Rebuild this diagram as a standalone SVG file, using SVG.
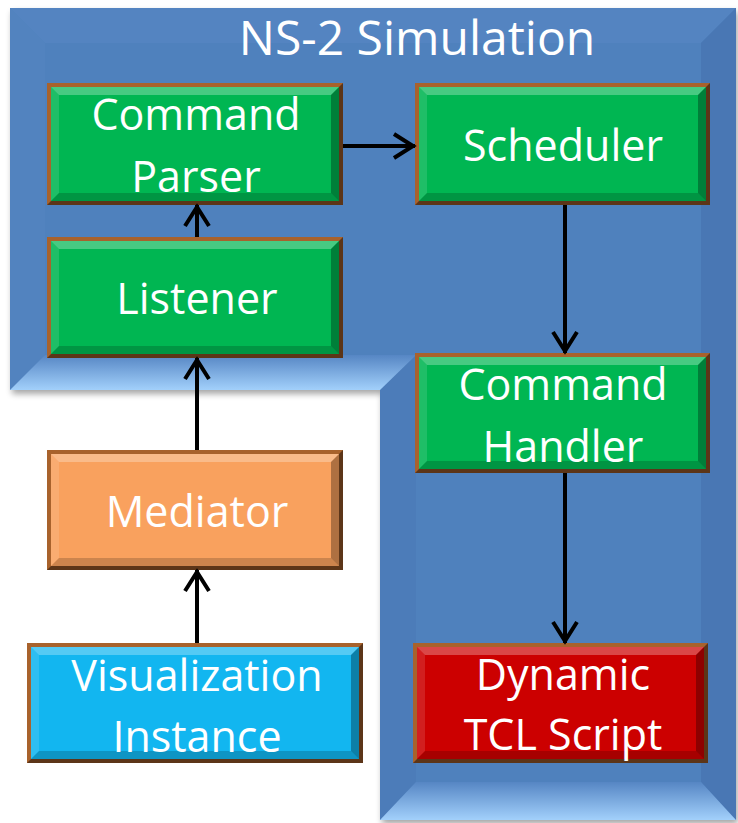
<svg xmlns="http://www.w3.org/2000/svg" width="738" height="823" viewBox="0 0 738 823">
<style>
.t{font-family:"Open Sans","Liberation Sans",sans-serif;font-size:43px;fill:#ffffff;text-anchor:middle}
.title{font-size:48px}
.brd{fill:#a8622c}
.brdd{fill:#000;opacity:.45}
.hl{fill:#fff;opacity:.28}
.hl2{fill:#fff;opacity:.12}
.sh{fill:#000;opacity:.18}
.sh2{fill:#000;opacity:.3}
.green{fill:#00b652}
.orange{fill:#f9a15e}
.cyan{fill:#12b6f0}
.red{fill:#cc0000}
.conn line{stroke:#000;stroke-width:4;fill:none}
</style>
<defs>
<marker id="ah" markerUnits="userSpaceOnUse" markerWidth="30" markerHeight="30" viewBox="-25 -15 30 30" refX="0" refY="0" orient="auto">
<path d="M-21,-12 L-2,0 L-21,12" fill="none" stroke="#000" stroke-width="4"/>
</marker>
<linearGradient id="bev" x1="0" y1="0" x2="0" y2="1">
<stop offset="0" stop-color="#5686c4"/>
<stop offset="1" stop-color="#a2d0fb"/>
</linearGradient>
<filter id="shadow" x="-5%" y="-5%" width="110%" height="110%">
<feGaussianBlur in="SourceAlpha" stdDeviation="3"/>
<feOffset dx="2" dy="4"/>
<feComponentTransfer><feFuncA type="linear" slope="0.35"/></feComponentTransfer>
<feMerge><feMergeNode/><feMergeNode in="SourceGraphic"/></feMerge>
</filter>
</defs>
<rect width="738" height="823" fill="#ffffff"/>

<g id="ns2-simulation">
<polygon points="10,8 736,8 736,820 380,820 380,390 10,390" fill="#4f81bd" filter="url(#shadow)"/>
<polygon points="10,8 736,8 701,43 45,43" fill="#5484c1"/>
<polygon points="10,8 45,43 45,355 10,390" fill="#5283bf"/>
<polygon points="736,8 736,820 701,782 701,43" fill="#4977b4"/>
<polygon points="380,390 416,355 416,782 380,820" fill="#4c7cb9"/>
<polygon points="10,390 45,355 416,355 380,390" fill="url(#bev)"/>
<polygon points="380,820 416,782 701,782 736,820" fill="url(#bev)"/>
<rect x="45" y="43" width="656" height="312" fill="#4f81bd"/>
<rect x="416" y="43" width="285" height="739" fill="#4f81bd"/>
<text class="t title" x="417" y="55">NS-2 Simulation</text>
</g>

<g id="command-parser">
<rect class="brd" x="47" y="83" width="296" height="122"/>
<polygon class="brdd" points="343,83 343,205 47,205 51,201 339,201 339,87"/>
<rect class="green" x="51" y="87" width="288" height="114"/>
<polygon class="hl" points="51,87 339,87 331,95 59,95"/>
<polygon class="hl2" points="51,87 59,95 59,193 51,201"/>
<polygon class="sh" points="51,201 59,193 331,193 339,201"/>
<polygon class="sh2" points="339,87 339,201 331,193 331,95"/>
<text class="t" x="196" y="130">Command</text>
<text class="t" x="196" y="192">Parser</text>
</g>

<g id="scheduler">
<rect class="brd" x="415" y="83" width="295" height="122"/>
<polygon class="brdd" points="710,83 710,205 415,205 419,201 706,201 706,87"/>
<rect class="green" x="419" y="87" width="287" height="114"/>
<polygon class="hl" points="419,87 706,87 698,95 427,95"/>
<polygon class="hl2" points="419,87 427,95 427,193 419,201"/>
<polygon class="sh" points="419,201 427,193 698,193 706,201"/>
<polygon class="sh2" points="706,87 706,201 698,193 698,95"/>
<text class="t" x="563" y="161">Scheduler</text>
</g>

<g id="listener">
<rect class="brd" x="47" y="237" width="296" height="121"/>
<polygon class="brdd" points="343,237 343,358 47,358 51,354 339,354 339,241"/>
<rect class="green" x="51" y="241" width="288" height="113"/>
<polygon class="hl" points="51,241 339,241 331,249 59,249"/>
<polygon class="hl2" points="51,241 59,249 59,346 51,354"/>
<polygon class="sh" points="51,354 59,346 331,346 339,354"/>
<polygon class="sh2" points="339,241 339,354 331,346 331,249"/>
<text class="t" x="197" y="314">Listener</text>
</g>

<g id="command-handler">
<rect class="brd" x="415" y="353" width="295" height="120"/>
<polygon class="brdd" points="710,353 710,473 415,473 419,469 706,469 706,357"/>
<rect class="green" x="419" y="357" width="287" height="112"/>
<polygon class="hl" points="419,357 706,357 698,365 427,365"/>
<polygon class="hl2" points="419,357 427,365 427,461 419,469"/>
<polygon class="sh" points="419,469 427,461 698,461 706,469"/>
<polygon class="sh2" points="706,357 706,469 698,461 698,365"/>
<text class="t" x="563" y="400">Command</text>
<text class="t" x="563" y="462">Handler</text>
</g>

<g id="mediator">
<rect class="brd" x="47" y="450" width="296" height="120"/>
<polygon class="brdd" points="343,450 343,570 47,570 51,566 339,566 339,454"/>
<rect class="orange" x="51" y="454" width="288" height="112"/>
<polygon class="hl" points="51,454 339,454 331,462 59,462"/>
<polygon class="hl2" points="51,454 59,462 59,558 51,566"/>
<polygon class="sh" points="51,566 59,558 331,558 339,566"/>
<polygon class="sh2" points="339,454 339,566 331,558 331,462"/>
<text class="t" x="197" y="527">Mediator</text>
</g>

<g id="visualization-instance">
<rect class="brd" x="27" y="643" width="336" height="120"/>
<polygon class="brdd" points="363,643 363,763 27,763 31,759 359,759 359,647"/>
<rect class="cyan" x="31" y="647" width="328" height="112"/>
<polygon class="hl" points="31,647 359,647 351,655 39,655"/>
<polygon class="hl2" points="31,647 39,655 39,751 31,759"/>
<polygon class="sh" points="31,759 39,751 351,751 359,759"/>
<polygon class="sh2" points="359,647 359,759 351,751 351,655"/>
<text class="t" x="197" y="691">Visualization</text>
<text class="t" x="197" y="752">Instance</text>
</g>

<g id="dynamic-tcl-script">
<rect class="brd" x="413" y="643" width="295" height="120"/>
<polygon class="brdd" points="708,643 708,763 413,763 417,759 704,759 704,647"/>
<rect class="red" x="417" y="647" width="287" height="112"/>
<polygon class="hl" points="417,647 704,647 696,655 425,655"/>
<polygon class="hl2" points="417,647 425,655 425,751 417,759"/>
<polygon class="sh" points="417,759 425,751 696,751 704,759"/>
<polygon class="sh2" points="704,647 704,759 696,751 696,655"/>
<text class="t" x="563" y="690">Dynamic</text>
<text class="t" x="563" y="750">TCL Script</text>
</g>

<g id="connectors" class="conn">
<line x1="343" y1="146" x2="415" y2="146" marker-end="url(#ah)"/>
<line x1="565" y1="205" x2="565" y2="353" marker-end="url(#ah)"/>
<line x1="197" y1="237" x2="197" y2="205" marker-end="url(#ah)"/>
<line x1="197" y1="450" x2="197" y2="358" marker-end="url(#ah)"/>
<line x1="197" y1="643" x2="197" y2="570" marker-end="url(#ah)"/>
<line x1="565" y1="473" x2="565" y2="643" marker-end="url(#ah)"/>
</g>
</svg>
